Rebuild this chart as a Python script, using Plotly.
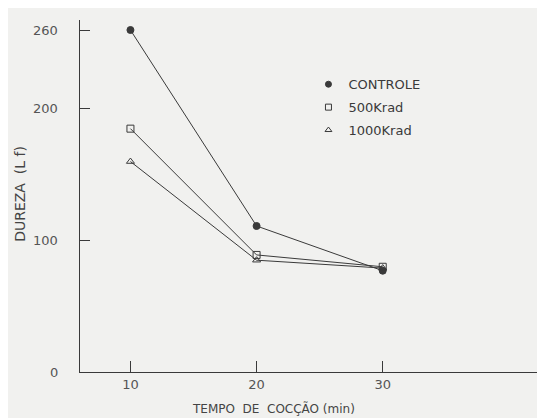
import plotly.graph_objects as go

tempo = [10, 20, 30]
controle = [260, 111, 77]
krad500 = [185, 89, 80]
krad1000 = [160, 85, 79]
series_names = ["CONTROLE", "500Krad", "1000Krad"]
y_ticks = [0, 100, 200, 260]
x_ticks = [10, 20, 30]

ink = "#3a3a3a"
bg = "#f1f1ef"
font = "DejaVu Sans"

fig = go.Figure()
symbols = ["circle", "square-open", "triangle-up-open"]
for name, ys, sym in zip(series_names, [controle, krad500, krad1000], symbols):
    fig.add_trace(go.Scatter(
        x=tempo, y=ys, name=name, mode="lines+markers", showlegend=False,
        line=dict(color=ink, width=1),
        marker=dict(symbol=sym, size=7, color=ink, line=dict(color=ink, width=1)),
    ))
    # legend entry: marker only
    fig.add_trace(go.Scatter(
        x=[None], y=[None], name=name, mode="markers", showlegend=True,
        legendgroup=name,
        marker=dict(symbol=sym, size=6, color=ink, line=dict(color=ink, width=1)),
    ))

annotations = [
    dict(text=str(v), xref="paper", yref="y", x=0, y=v, xanchor="right",
         yanchor="middle", xshift=-20, showarrow=False,
         font=dict(size=13, color="#555"))
    for v in y_ticks
]
annotations += [
    dict(text="TEMPO  DE  COCÇÃO (min)", xref="paper", yref="paper",
         x=0.41, y=0, yshift=-46, xanchor="center", showarrow=False,
         font=dict(size=12, color="#444")),
    dict(text="DUREZA  (L f)", xref="paper", yref="paper",
         x=-0.127, y=0.506, xanchor="center", yanchor="middle",
         textangle=-90, showarrow=False,
         font=dict(size=14, color="#444")),
]

fig.update_layout(
    width=545, height=418,
    margin=dict(l=72, r=0, t=12, b=54),
    paper_bgcolor=bg, plot_bgcolor=bg,
    font=dict(family=font, color="#444", size=12),
    showlegend=True,
    legend=dict(x=0.483, y=0.86, xanchor="left", yanchor="top",
                bgcolor="rgba(0,0,0,0)", font=dict(size=13, color="#3a3a3a"),
                itemwidth=30, tracegroupgap=3),
    xaxis=dict(range=[6, 43.5], tickvals=x_ticks, ticks="inside", ticklen=11,
               tickcolor=ink, showline=True, linecolor=ink, linewidth=1,
               showgrid=False, zeroline=False, tickfont=dict(size=13, color="#555")),
    yaxis=dict(range=[0, 267.6], tickvals=y_ticks, ticks="inside", ticklen=10,
               tickcolor=ink, showline=True, linecolor=ink, linewidth=1,
               showgrid=False, zeroline=False, showticklabels=False),
    annotations=annotations,
)

fig.write_html("out.html")
